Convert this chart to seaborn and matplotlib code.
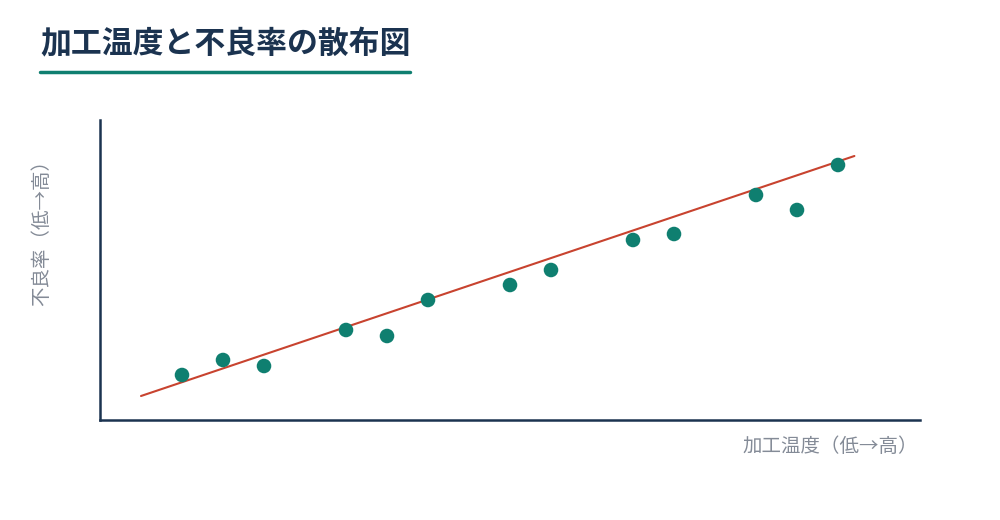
import matplotlib
matplotlib.use('Agg')
import matplotlib.pyplot as plt
import seaborn as sns
import pandas as pd
from matplotlib.lines import Line2D

# data
temp = [2, 3, 4, 6, 7, 8, 10, 11, 13, 14, 16, 17, 18]
defect = [15, 20, 18, 30, 28, 40, 45, 50, 60, 62, 75, 70, 85]
trend_x = [1, 18.4]
trend_y = [8, 88]

title = "加工温度と不良率の散布図"
xlabel = "加工温度（低→高）"
ylabel = "不良率（低→高）"

navy = "#1b3350"
teal = "#0f7f70"
red = "#c8432f"
gray = "#848b97"

sns.set_theme(style="white")
plt.rcParams['font.family'] = ['Noto Sans CJK JP', 'DejaVu Sans']

df = pd.DataFrame({"temp": temp, "defect": defect})

fig = plt.figure(figsize=(10, 5.2), dpi=100)
ax = fig.add_axes([0.10, 1 - 420 / 520, 0.82, 300 / 520])

sns.lineplot(x=trend_x, y=trend_y, ax=ax, color=red, linewidth=1.5, zorder=2)
sns.scatterplot(data=df, x="temp", y="defect", ax=ax, color=teal, s=110,
                edgecolor="none", zorder=3)

ax.set_xlim(0, 20)
ax.set_ylim(0, 100)
ax.set_xticks([])
ax.set_yticks([])
ax.set_xlabel("")
ax.set_ylabel("")
for side in ["top", "right"]:
    ax.spines[side].set_visible(False)
for side in ["left", "bottom"]:
    ax.spines[side].set_color(navy)
    ax.spines[side].set_linewidth(1.8)

# title + underline
fig.text(0.04, 1 - 44 / 520, title, fontsize=22.2, fontweight="bold",
         color=navy, ha="left", va="center")
fig.add_artist(Line2D([0.04, 0.41], [1 - 72 / 520] * 2, color=teal,
                      linewidth=2.5, transform=fig.transFigure))

# axis labels
fig.text(0.918, 1 - 447 / 520, xlabel, fontsize=14, color=gray,
         ha="right", va="center")
fig.text(0.042, 1 - 228 / 520, ylabel, fontsize=14, color=gray,
         ha="center", va="center", rotation=90)

fig.savefig("out.png", dpi=100)
